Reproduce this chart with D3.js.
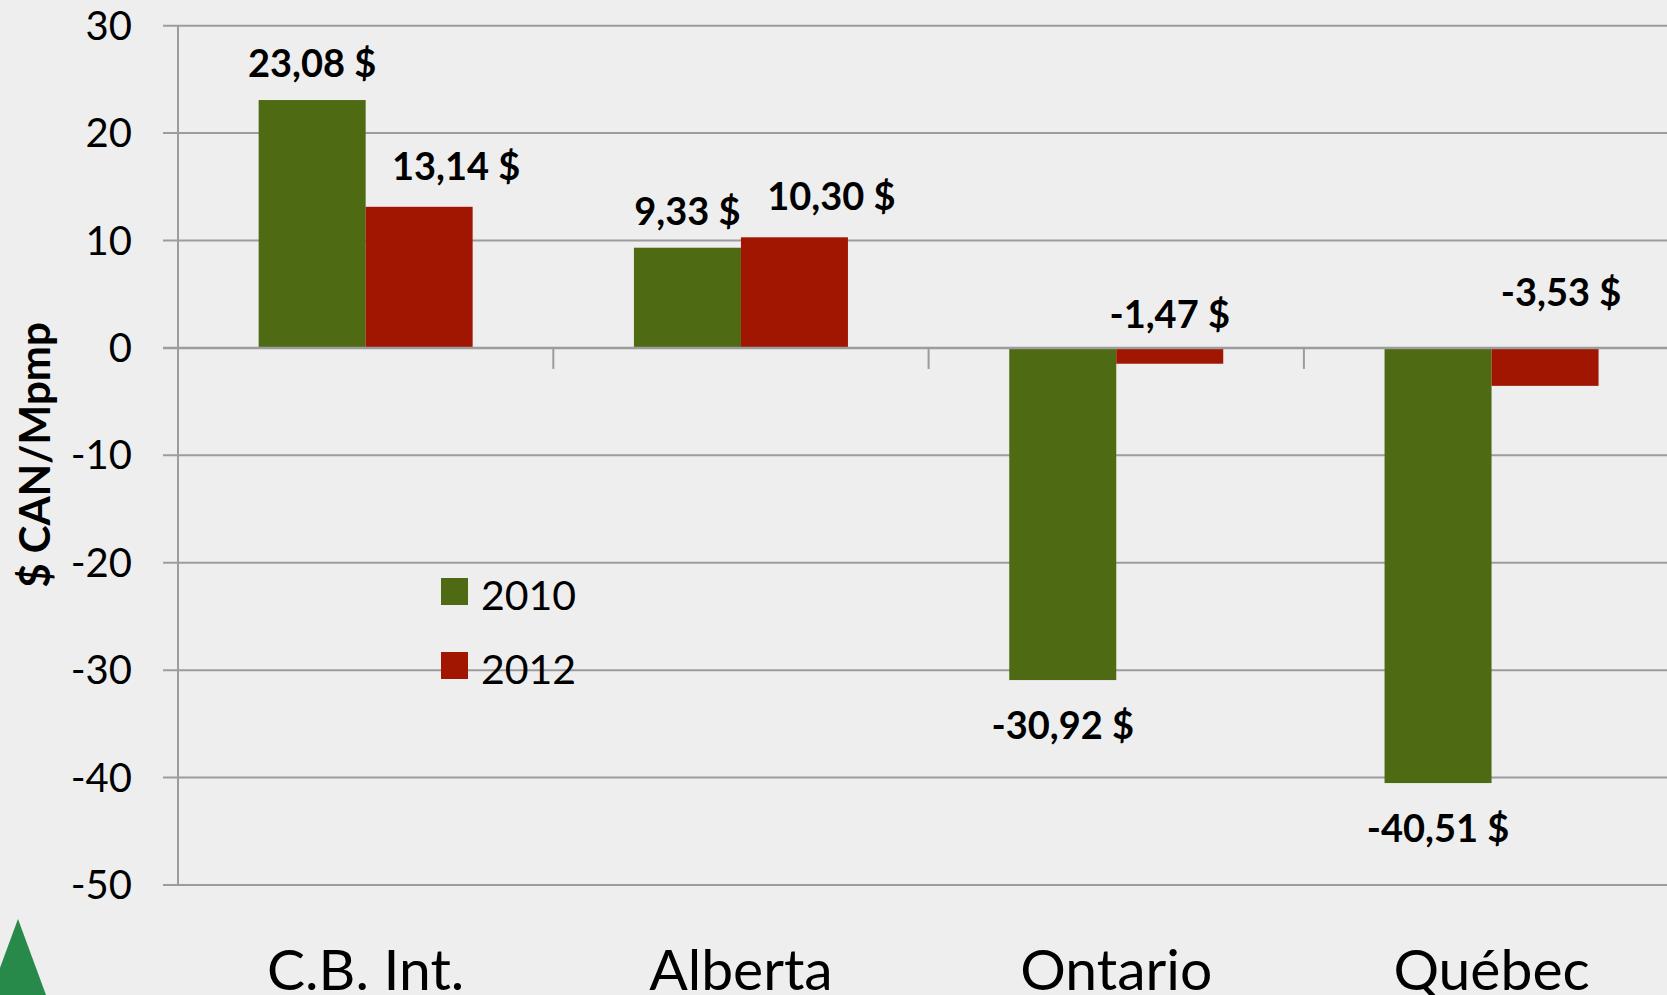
<!DOCTYPE html>
<html>
<head>
  <meta charset="utf-8">
  <title>prix par province</title>
  <script type="text/javascript" src="https://cdn.jsdelivr.net/npm/d3@7"></script>
  <style type="text/css">
    body { margin: 0; background: #eeeeee; }
    svg { display: block; font-family: Lato, "Open Sans", sans-serif; }
  </style>
</head>
<body>
<script type="text/javascript">

// data
var categories = ["C.B. Int.", "Alberta", "Ontario", "Québec"];
var seriesNames = ["2010", "2012"];
var values2010 = [23.08, 9.33, -30.92, -40.51];
var values2012 = [13.14, 10.30, -1.47, -3.53];
var yTicks = [30, 20, 10, 0, -10, -20, -30, -40, -50];
var colors = ["#4e6b13", "#a11600"];

var w = 1667;
var h = 995;

// careful: "top" is taken by window.top
var plotLeft = 178, plotTop = 25.7, plotBottom = 885;
var bandW = 375.3;

var svg = d3.select("body")
  .append("svg")
  .attr("width", w)
  .attr("height", h);

svg.append("rect").attr("width", w).attr("height", h).attr("fill", "#eeeeee");

var yScale = d3.scaleLinear()
  .domain([-50, 30])
  .range([plotBottom, plotTop]);

var x0 = d3.scaleBand()
  .domain(categories)
  .range([plotLeft, plotLeft + bandW * categories.length]);

// excel-ish gap width: two bars of 107px, gap 161px
var x1 = d3.scaleBand()
  .domain(seriesNames)
  .range([0, 214]);
var groupOffset = (x0.bandwidth() - 214) / 2;

// gridlines
svg.append("g")
  .selectAll("line")
  .data(yTicks)
  .enter()
  .append("line")
  .attr("x1", 163)
  .attr("x2", w)
  .attr("y1", function(d) { return yScale(d); })
  .attr("y2", function(d) { return yScale(d); })
  .attr("stroke", "#9c9c9c")
  .attr("stroke-width", 2);

// y axis line
svg.append("line")
  .attr("x1", plotLeft).attr("x2", plotLeft)
  .attr("y1", yScale(30)).attr("y2", yScale(-50))
  .attr("stroke", "#9c9c9c")
  .attr("stroke-width", 2);

// tick labels
svg.append("g")
  .selectAll("text")
  .data(yTicks)
  .enter()
  .append("text")
  .text(function(d) { return d; })
  .attr("x", 132)
  .attr("y", function(d) { return yScale(d) + 14; })
  .attr("text-anchor", "end")
  .attr("font-size", "40px")
  .attr("fill", "#000");

// bars
var rows = categories.map(function(c, i) {
  return { cat: c, vals: [values2010[i], values2012[i]] };
});

var groups = svg.selectAll(".grp")
  .data(rows)
  .enter()
  .append("g")
  .attr("class", "grp")
  .attr("transform", function(d) {
    return "translate(" + (x0(d.cat) + groupOffset) + ",0)";
  });

groups.selectAll("rect")
  .data(function(d) {
    return d.vals.map(function(v, j) { return { s: seriesNames[j], v: v, j: j }; });
  })
  .enter()
  .append("rect")
  .attr("x", function(d) { return x1(d.s); })
  .attr("y", function(d) { return yScale(Math.max(0, d.v)); })
  .attr("width", x1.bandwidth())
  .attr("height", function(d) { return Math.abs(yScale(d.v) - yScale(0)); })
  .attr("fill", function(d) { return colors[d.j]; });

// x axis line (zero) and category ticks
svg.append("line")
  .attr("x1", 163).attr("x2", w)
  .attr("y1", yScale(0)).attr("y2", yScale(0))
  .attr("stroke", "#9c9c9c")
  .attr("stroke-width", 2.5);

svg.append("g")
  .selectAll("line")
  .data(categories.slice(1))
  .enter()
  .append("line")
  .attr("x1", function(d) { return x0(d); })
  .attr("x2", function(d) { return x0(d); })
  .attr("y1", yScale(0))
  .attr("y2", yScale(0) + 21)
  .attr("stroke", "#9c9c9c")
  .attr("stroke-width", 2);

// value labels, french style with a plain hyphen for minus
function fmt(v) {
  return d3.format(".2f")(v).replace("\u2212", "-").replace(".", ",") + " $";
}

groups.selectAll(".lbl")
  .data(function(d) {
    return d.vals.map(function(v, j) { return { s: seriesNames[j], v: v, j: j }; });
  })
  .enter()
  .append("text")
  .attr("class", "lbl")
  .text(function(d) { return fmt(d.v); })
  .attr("text-anchor", "middle")
  .attr("x", function(d) {
    var cx = x1(d.s) + x1.bandwidth() / 2;
    if (d.j === 1 && d.v > 0) cx += 37;
    if (d.j === 1 && d.v < -2) cx += 16;
    return cx;
  })
  .attr("y", function(d) {
    if (d.v >= 0) return yScale(d.v) - (d.j === 0 ? 23 : 27);
    if (d.v > -5) return yScale(-d.v) - 4;   // small negatives are labelled above zero
    return yScale(d.v) + 59;
  })
  .attr("font-size", "38px")
  .attr("font-weight", "bold")
  .attr("fill", "#000");

// category labels (bottom of them is cut by the frame, as in the original)
svg.append("g")
  .selectAll("text")
  .data(categories)
  .enter()
  .append("text")
  .text(function(d) { return d; })
  .attr("x", function(d) { return x0(d) + groupOffset + 107; })
  .attr("y", 990)
  .attr("text-anchor", "middle")
  .attr("font-size", "57px")
  .attr("fill", "#000");

// y axis title
svg.append("text")
  .text("$ CAN/Mpmp")
  .attr("transform", "translate(50,455) rotate(-90)")
  .attr("text-anchor", "middle")
  .attr("font-size", "42px")
  .attr("font-weight", "bold")
  .attr("fill", "#000");

// legend
var legend = svg.selectAll(".leg")
  .data(seriesNames)
  .enter()
  .append("g")
  .attr("class", "leg")
  .attr("transform", function(d, i) { return "translate(441," + (578 + i * 74) + ")"; });

legend.append("rect")
  .attr("width", 27)
  .attr("height", 27)
  .attr("fill", function(d, i) { return colors[i]; });

legend.append("text")
  .text(function(d) { return d; })
  .attr("x", 40)
  .attr("y", 32)
  .attr("font-size", "41px")
  .attr("fill", "#000");

// little green tree in the corner
svg.append("path")
  .attr("d", "M18,919 L46,995 L-10,995 Z")
  .attr("fill", "#288a4a");

</script>
</body>
</html>
